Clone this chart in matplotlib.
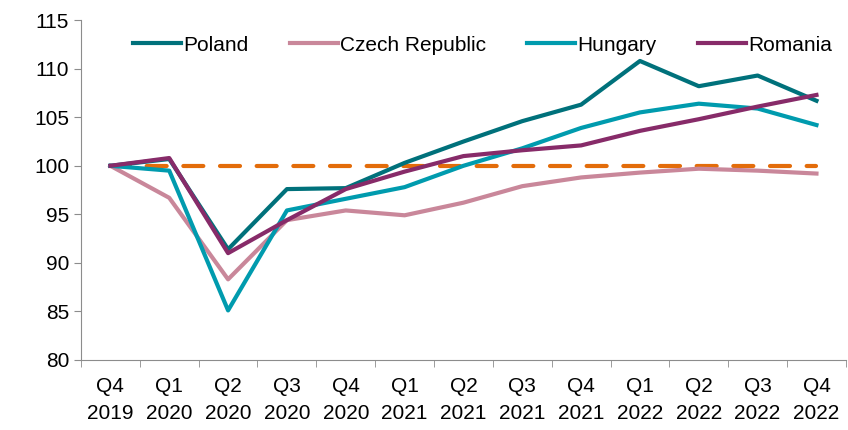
import matplotlib
matplotlib.use('Agg')
from matplotlib import pyplot as plt

quarters = ['Q4\n2019', 'Q1\n2020', 'Q2\n2020', 'Q3\n2020', 'Q4\n2020', 'Q1\n2021', 'Q2\n2021',
            'Q3\n2021', 'Q4\n2021', 'Q1\n2022', 'Q2\n2022', 'Q3\n2022', 'Q4\n2022']

poland = [100, 100.7, 91.4, 97.6, 97.7, 100.3, 102.5, 104.6, 106.3, 110.8, 108.2, 109.3, 106.7]
czech = [100, 96.7, 88.3, 94.4, 95.4, 94.9, 96.2, 97.9, 98.8, 99.3, 99.7, 99.5, 99.2]
hungary = [100, 99.5, 85.1, 95.4, 96.6, 97.8, 100.0, 101.8, 103.9, 105.5, 106.4, 105.9, 104.2]
romania = [100, 100.8, 91.0, 94.4, 97.6, 99.4, 101.0, 101.6, 102.1, 103.6, 104.8, 106.1, 107.3]
baseline = [100] * len(quarters)

plt.rcParams['font.family'] = ['Liberation Sans Narrow', 'Liberation Sans', 'DejaVu Sans']

fig = plt.figure(figsize=(8.48, 4.30), dpi=100)
ax = fig.add_axes([0.0955, 0.163, 0.902, 0.79])

x = list(range(len(quarters)))
ax.plot(x, baseline, color='#E36C0A', lw=3, dashes=(4.8, 4), dash_capstyle='round')
ax.plot(x, poland, color='#00717B', lw=3, label='Poland')
ax.plot(x, czech, color='#C9879A', lw=3, label='Czech Republic')
ax.plot(x, hungary, color='#009BAE', lw=3, label='Hungary')
ax.plot(x, romania, color='#872B69', lw=3, label='Romania')

ax.set_xlim(-0.5, len(quarters) - 0.5)
ax.set_ylim(80, 115)
ax.set_yticks(range(80, 116, 5))
ax.set_xticks(x)
ax.set_xticklabels(quarters, linespacing=1.55)
ax.set_xticks([i - 0.5 for i in range(len(quarters) + 1)], minor=True)
ax.tick_params(axis='x', which='major', length=0, pad=12, labelsize=15)
ax.tick_params(axis='x', which='minor', length=5, color='#8C8C8C')
ax.tick_params(axis='y', length=5, color='#8C8C8C', labelsize=15)
for s in ['top', 'right']:
    ax.spines[s].set_visible(False)
for s in ['left', 'bottom']:
    ax.spines[s].set_color('#8C8C8C')

ax.legend(loc='upper center', bbox_to_anchor=(0.525, 1.01), ncol=4, frameon=False,
          fontsize=15, handlelength=2.3, handletextpad=0.1, columnspacing=2.0)

fig.savefig('out.png', dpi=100)
